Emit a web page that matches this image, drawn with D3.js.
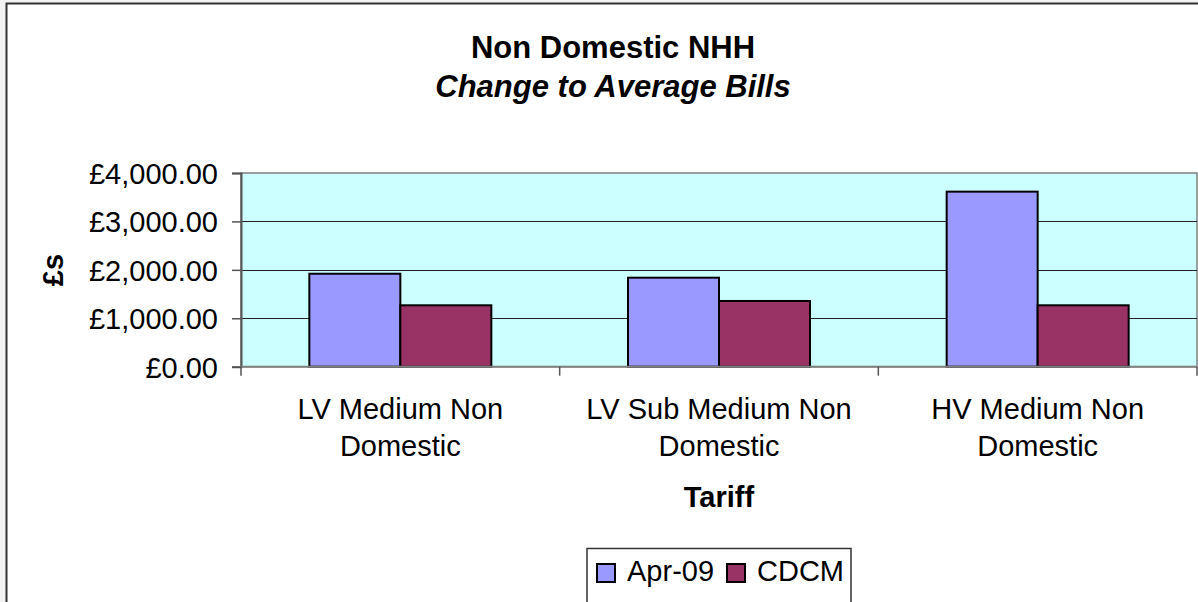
<!DOCTYPE html>
<html>
<head>
<meta charset="utf-8">
<script src="https://cdn.jsdelivr.net/npm/d3@7"></script>
<style>
  body { margin: 0; background: #f2f2f2; }
  svg { display: block; font-family: "Liberation Sans", Arial, sans-serif; }
</style>
</head>
<body>
<div id="container"></div>
<script>
/* DATA */
const categories = ["LV Medium Non Domestic", "LV Sub Medium Non Domestic", "HV Medium Non Domestic"];
const categoryLines = [["LV Medium Non", "Domestic"], ["LV Sub Medium Non", "Domestic"], ["HV Medium Non", "Domestic"]];
const seriesNames = ["Apr-09", "CDCM"];
const apr09 = [1920, 1838, 3615];
const cdcm = [1268, 1357, 1268];
const yTicks = [0, 1000, 2000, 3000, 4000];

/* CONSTANTS */
const width = 1198, height = 602;
const plot = {left: 241, right: 1197, top: 173, bottom: 366.7};
const colors = {"Apr-09": "#9999ff", "CDCM": "#993366"};

const data = categories.map((c, i) => ({cat: c, values: [
  {key: "Apr-09", value: apr09[i]},
  {key: "CDCM", value: cdcm[i]}
]}));

const svg = d3.select("#container")
  .append("svg")
  .attr("width", width)
  .attr("height", height);

// chart area (runs off the right and bottom of the window)
svg.append("rect")
  .attr("x", 6.5).attr("y", 3.5)
  .attr("width", width + 20).attr("height", height + 20)
  .attr("fill", "#fff")
  .attr("stroke", "#333")
  .attr("stroke-width", 2);

// SCALES
const x = d3.scaleBand()
  .domain(categories)
  .range([plot.left, plot.right])
  .padding(0);

const x1 = d3.scaleBand()
  .domain(seriesNames)
  .range([0, x.bandwidth()])
  .paddingInner(0)
  .paddingOuter(0.751);

const y = d3.scaleLinear()
  .domain([0, 4000])
  .range([plot.bottom, plot.top]);

// plot area
svg.append("rect")
  .attr("x", plot.left).attr("y", plot.top)
  .attr("width", plot.right - plot.left).attr("height", plot.bottom - plot.top)
  .attr("fill", "#ccffff")
  .attr("stroke", "#808080")
  .attr("stroke-width", 1.5);

// gridlines
svg.append("g")
  .selectAll("line")
  .data(yTicks.filter(t => t > 0 && t < 4000))
  .join("line")
  .attr("x1", plot.left).attr("x2", plot.right)
  .attr("y1", d => Math.round(y(d)) + 0.5).attr("y2", d => Math.round(y(d)) + 0.5)
  .attr("stroke", "#222")
  .attr("stroke-width", 1);

// BARS
svg.append("g")
  .selectAll("g")
  .data(data)
  .join("g")
  .attr("transform", d => `translate(${x(d.cat)},0)`)
  .selectAll("rect")
  .data(d => d.values)
  .join("rect")
  .attr("x", d => x1(d.key))
  .attr("y", d => y(d.value))
  .attr("width", x1.bandwidth())
  .attr("height", d => y(0) - y(d.value))
  .attr("fill", d => colors[d.key])
  .attr("stroke", "#000")
  .attr("stroke-width", 2);

// Y AXIS
const yAxis = d3.axisLeft(y)
  .tickValues(yTicks)
  .tickSize(9)
  .tickPadding(14)
  .tickFormat(d => "£" + d3.format(",.2f")(d));

svg.append("g")
  .attr("transform", `translate(${plot.left},0)`)
  .call(yAxis)
  .call(g => g.select(".domain").attr("stroke", "#555").attr("stroke-width", 2))
  .call(g => g.selectAll(".tick line").attr("stroke", "#555").attr("stroke-width", 1.5))
  .call(g => g.selectAll(".tick text")
    .attr("font-size", 29)
    .attr("font-family", "Liberation Sans, Arial, sans-serif")
    .attr("fill", "#000")
    .attr("dy", "0.36em"));

// X AXIS
svg.append("line")
  .attr("x1", plot.left).attr("x2", plot.right)
  .attr("y1", plot.bottom).attr("y2", plot.bottom)
  .attr("stroke", "#808080").attr("stroke-width", 2);

const bounds = categories.map(c => x(c)).concat([plot.right]);
svg.append("g")
  .selectAll("line")
  .data(bounds)
  .join("line")
  .attr("x1", d => d).attr("x2", d => d)
  .attr("y1", plot.bottom).attr("y2", plot.bottom + 9)
  .attr("stroke", "#555").attr("stroke-width", 1.5);

const xLabels = svg.append("g")
  .selectAll("text")
  .data(categories)
  .join("text")
  .attr("x", d => x(d) + x.bandwidth() / 2)
  .attr("y", 419)
  .attr("text-anchor", "middle")
  .attr("font-size", 29)
  .attr("fill", "#000");

xLabels.selectAll("tspan")
  .data((d, i) => categoryLines[i])
  .join("tspan")
  .attr("x", function() { return d3.select(this.parentNode).attr("x"); })
  .attr("dy", (d, i) => i === 0 ? 0 : 37)
  .text(d => d);

// TITLES
svg.append("text")
  .attr("x", 613).attr("y", 58)
  .attr("text-anchor", "middle")
  .attr("font-size", 31).attr("font-weight", "bold")
  .text("Non Domestic NHH");

svg.append("text")
  .attr("x", 613).attr("y", 97)
  .attr("text-anchor", "middle")
  .attr("font-size", 31).attr("font-weight", "bold").attr("font-style", "italic")
  .text("Change to Average Bills");

svg.append("text")
  .attr("x", 719).attr("y", 507)
  .attr("text-anchor", "middle")
  .attr("font-size", 29).attr("font-weight", "bold")
  .text("Tariff");

svg.append("text")
  .attr("transform", "translate(63,270) rotate(-90)")
  .attr("text-anchor", "middle")
  .attr("font-size", 29).attr("font-weight", "bold")
  .text("£s");

// LEGEND
const legend = svg.append("g");
legend.append("rect")
  .attr("x", 587).attr("y", 548.5)
  .attr("width", 264).attr("height", 60)
  .attr("fill", "#fff")
  .attr("stroke", "#333").attr("stroke-width", 1.5);

const legendX = [597, 727];
const items = legend.selectAll("g.item")
  .data(seriesNames)
  .join("g")
  .attr("class", "item")
  .attr("transform", (d, i) => `translate(${legendX[i]},564)`);

items.append("rect")
  .attr("width", 18).attr("height", 18)
  .attr("fill", d => colors[d])
  .attr("stroke", "#000").attr("stroke-width", 2);

items.append("text")
  .attr("x", 30).attr("y", 17)
  .attr("font-size", 29)
  .text(d => d);
</script>
</body>
</html>
